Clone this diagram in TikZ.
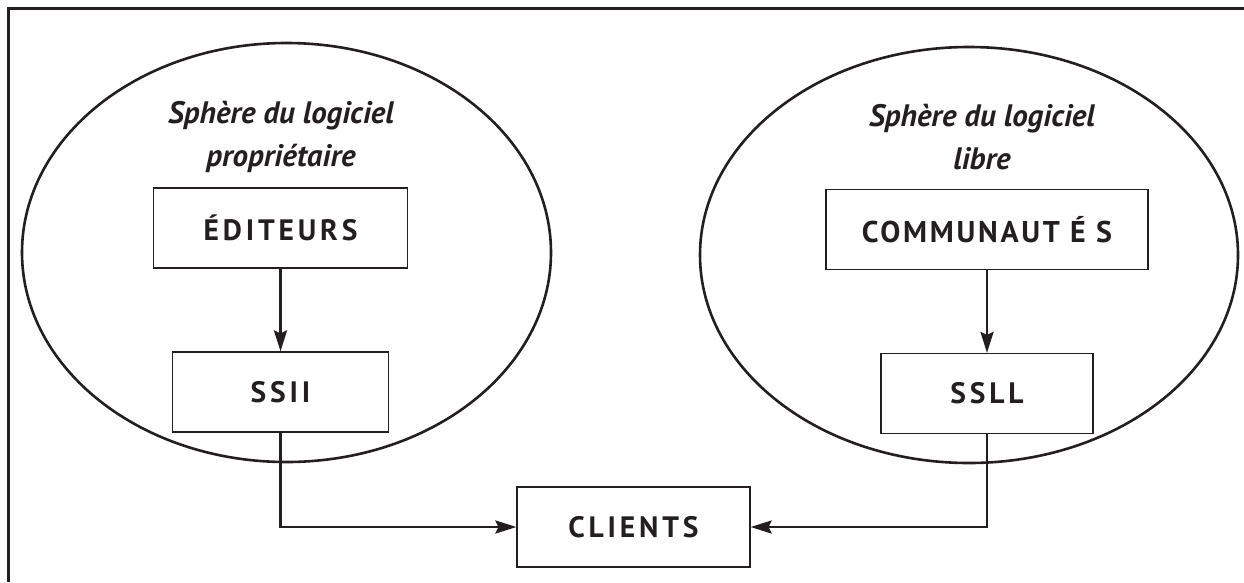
\documentclass[tikz,border=0pt]{standalone}
\usepackage{fontspec}
\setmainfont{PT Sans}
\newfontfamily\capsfont[LetterSpace=13]{PT Sans}
\newfontfamily\commfont[LetterSpace=9]{PT Sans}
\usetikzlibrary{arrows.meta,shapes.geometric}
\definecolor{ink}{RGB}{35,31,32}
\begin{document}
\begin{tikzpicture}[x=1pt,y=-1pt,
  box/.style={draw=ink, line width=1.2pt, minimum height=80pt, inner sep=0pt, text=ink,
    font=\capsfont\bfseries\fontsize{29.5}{31}\selectfont},
  conn/.style={draw=ink, line width=2.6pt, -{Stealth[length=21pt,width=13pt,inset=3pt]}},
  sphere/.style={draw=ink, line width=2.6pt, ellipse, inner sep=0pt},
  title/.style={text=ink, align=center, font=\bfseries\itshape\fontsize{31}{43}\selectfont},
  frame/.style={draw=ink, line width=2.7pt}]
\useasboundingbox (0,0) rectangle (1244,582);
% outer frame (top and left sides only)
\draw[frame] (8.5,582) -- (8.5,8.5) -- (1244,8.5);
% spheres
\node[sphere, minimum width=529pt, minimum height=419pt] (lsph) at (286.5,252.5) {};
\node[sphere, minimum width=538pt, minimum height=416pt] (rsph) at (969,255) {};
% titles
\node[title] (ltitle) at (281,137) {Sphère du logiciel\\propriétaire};
\node[title] (rtitle) at (982,137) {Sphère du logiciel\\libre};
% boxes
\node[box, minimum width=254pt] (edit) at (280.5,228) {ÉDITEURS};
\node[box, minimum width=216pt] (ssii) at (280.5,392) {SSII};
\node[box, minimum width=322pt, font=\commfont\bfseries\fontsize{30}{31}\selectfont] (comm) at (987,229.5) {COMMUNAUT É S};
\node[box, minimum width=212pt] (ssll) at (987,393.5) {SSLL};
\node[box, minimum width=233pt] (clients) at (633.5,527) {CLIENTS};
% connectors
\draw[conn] (edit.south) -- (ssii.north);
\draw[conn] (comm.south) -- (ssll.north);
\draw[conn] (ssii.south) |- (clients.west);
\draw[conn] (ssll.south) |- (clients.east);
\end{tikzpicture}
\end{document}
